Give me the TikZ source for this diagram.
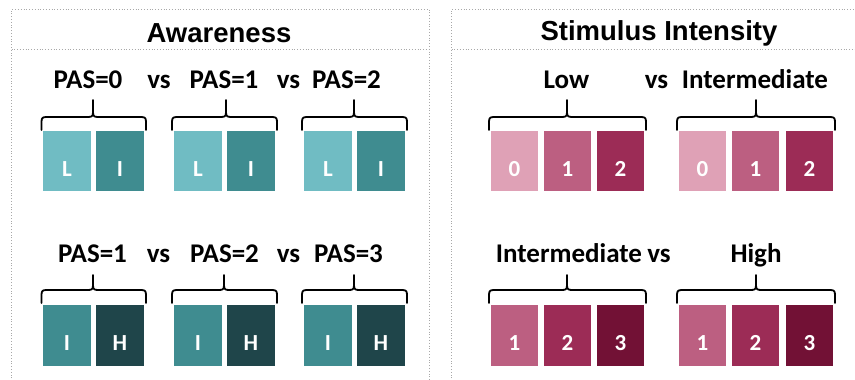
\documentclass[tikz,border=0pt]{standalone}
\usepackage{fontspec}
\newfontfamily\headfont{Liberation Sans}
\newfontfamily\labfont{Carlito}
\definecolor{tealL}{HTML}{70BCC3}
\definecolor{tealI}{HTML}{3F8C90}
\definecolor{tealH}{HTML}{1F454A}
\definecolor{pink0}{HTML}{DFA1B6}
\definecolor{pink1}{HTML}{BC5F81}
\definecolor{pink2}{HTML}{9C2C56}
\definecolor{pink3}{HTML}{721135}
\definecolor{frame}{HTML}{A8A8A8}
\tikzset{
  panelline/.style={draw=frame, line width=0.8pt, dotted},
  title/.style={font=\headfont\bfseries\fontsize{27.5}{29}\selectfont, anchor=base, inner sep=0pt},
  grouplab/.style={font=\labfont\bfseries\fontsize{27}{29}\selectfont, anchor=base, inner sep=0pt},
  cell/.style={fill=#1, draw=none},
  celltext/.style={font=\labfont\bfseries\fontsize{23}{25}\selectfont, text=white, anchor=base, inner sep=0pt},
  bracepath/.style={draw=black, line width=1.8pt, line cap=round, line join=round},
}
% curly brace: left x, right x, tip x, tip y, bar y, foot y
\newcommand{\grpbrace}[6]{%
  \path[bracepath] (#1,#6) -- (#1,#5+5) .. controls (#1,#5+1) and (#1+1,#5) .. (#1+5,#5)
    -- (#3-5,#5) .. controls (#3-1,#5) and (#3,#5-1) .. (#3,#5-5) -- (#3,#4);
  \path[bracepath] (#2,#6) -- (#2,#5+5) .. controls (#2,#5+1) and (#2-1,#5) .. (#2-5,#5)
    -- (#3+5,#5) .. controls (#3+1,#5) and (#3,#5-1) .. (#3,#5-5);
}
% one coloured cell: name, left x, top y, width, height, colour, text, baseline y
\newcommand{\cellbox}[8]{%
  \fill[cell=#6] (#2,#3) rectangle ++(#4,#5);
  \node[celltext] (#1) at (#2+#4/2,#8) {#7};
}
\begin{document}
\begin{tikzpicture}[x=1pt,y=-1pt]
\useasboundingbox (0,0) rectangle (855,380);
\fill[white] (0,0) rectangle (855,380);

% ---- panel frames ----
\draw[panelline] (11.5,381) -- (11.5,9.5) -- (429.5,9.5) -- (429.5,381);
\draw[panelline] (11.5,49) -- (429.5,49);
\draw[panelline] (451.5,381) -- (451.5,9.5) -- (856,9.5);
\draw[panelline] (451.5,49.5) -- (856,49.5);

% ---- titles ----
\node[title] (tAware) at (219,42) {Awareness};
\node[title] (tStim) at (659,41) {Stimulus Intensity};

% ---- Awareness, top row ----
\node[grouplab] (a1) at (88,88) {PAS=0};
\node[grouplab] (av1) at (159,88) {vs};
\node[grouplab] (a2) at (224,88) {PAS=1};
\node[grouplab] (av2) at (288.5,88) {vs};
\node[grouplab] (a3) at (346.5,88) {PAS=2};

\grpbrace{41.5}{146}{93}{100}{117}{130}
\grpbrace{172}{277}{226}{100}{117}{130}
\grpbrace{302}{407}{354}{100}{117}{130}

\cellbox{c11}{43}{131}{48}{60}{tealL}{L}{176}
\cellbox{c12}{96}{131}{48}{60}{tealI}{I}{176}
\cellbox{c13}{174}{131}{48}{60}{tealL}{L}{176}
\cellbox{c14}{227}{131}{48}{60}{tealI}{I}{176}
\cellbox{c15}{304}{131}{48}{60}{tealL}{L}{176}
\cellbox{c16}{357}{131}{48}{60}{tealI}{I}{176}

% ---- Awareness, bottom row ----
\node[grouplab] (b1) at (92.5,262) {PAS=1};
\node[grouplab] (bv1) at (158.5,262) {vs};
\node[grouplab] (b2) at (224.5,262) {PAS=2};
\node[grouplab] (bv2) at (288.5,262) {vs};
\node[grouplab] (b3) at (348.5,262) {PAS=3};

\grpbrace{41.5}{146}{93}{275}{290}{303}
\grpbrace{172}{277}{224}{275}{290}{303}
\grpbrace{302}{407}{354}{275}{290}{303}

\cellbox{d11}{43}{305}{48}{61}{tealI}{I}{350}
\cellbox{d12}{96}{305}{48}{61}{tealH}{H}{350}
\cellbox{d13}{174}{305}{48}{61}{tealI}{I}{350}
\cellbox{d14}{227}{305}{48}{61}{tealH}{H}{350}
\cellbox{d15}{304}{305}{48}{61}{tealI}{I}{350}
\cellbox{d16}{357}{305}{48}{61}{tealH}{H}{350}

% ---- Stimulus intensity, top row ----
\node[grouplab] (s1) at (566.5,88) {Low};
\node[grouplab] (sv1) at (656.5,88) {vs};
\node[grouplab] (s2) at (755,88) {Intermediate};

\grpbrace{489}{646}{567}{100}{117}{130}
\grpbrace{677}{835}{756}{100}{117}{130}

\cellbox{e11}{491}{131}{47}{60}{pink0}{0}{176}
\cellbox{e12}{544}{131}{47}{60}{pink1}{1}{176}
\cellbox{e13}{597}{131}{47}{60}{pink2}{2}{176}
\cellbox{e14}{679}{131}{47}{60}{pink0}{0}{176}
\cellbox{e15}{732}{131}{47}{60}{pink1}{1}{176}
\cellbox{e16}{786}{131}{47}{60}{pink2}{2}{176}

% ---- Stimulus intensity, bottom row ----
\node[grouplab] (t1) at (569,262) {Intermediate};
\node[grouplab] (tv1) at (659,262) {vs};
\node[grouplab] (t2) at (756,262) {High};

\grpbrace{489}{646}{567}{275}{290}{303}
\grpbrace{677}{835}{756}{275}{290}{303}

\cellbox{f11}{491}{305}{47}{61}{pink1}{1}{350}
\cellbox{f12}{544}{305}{47}{61}{pink2}{2}{350}
\cellbox{f13}{597}{305}{47}{61}{pink3}{3}{350}
\cellbox{f14}{679}{305}{47}{61}{pink1}{1}{350}
\cellbox{f15}{732}{305}{47}{61}{pink2}{2}{350}
\cellbox{f16}{786}{305}{47}{61}{pink3}{3}{350}
\end{tikzpicture}
\end{document}
